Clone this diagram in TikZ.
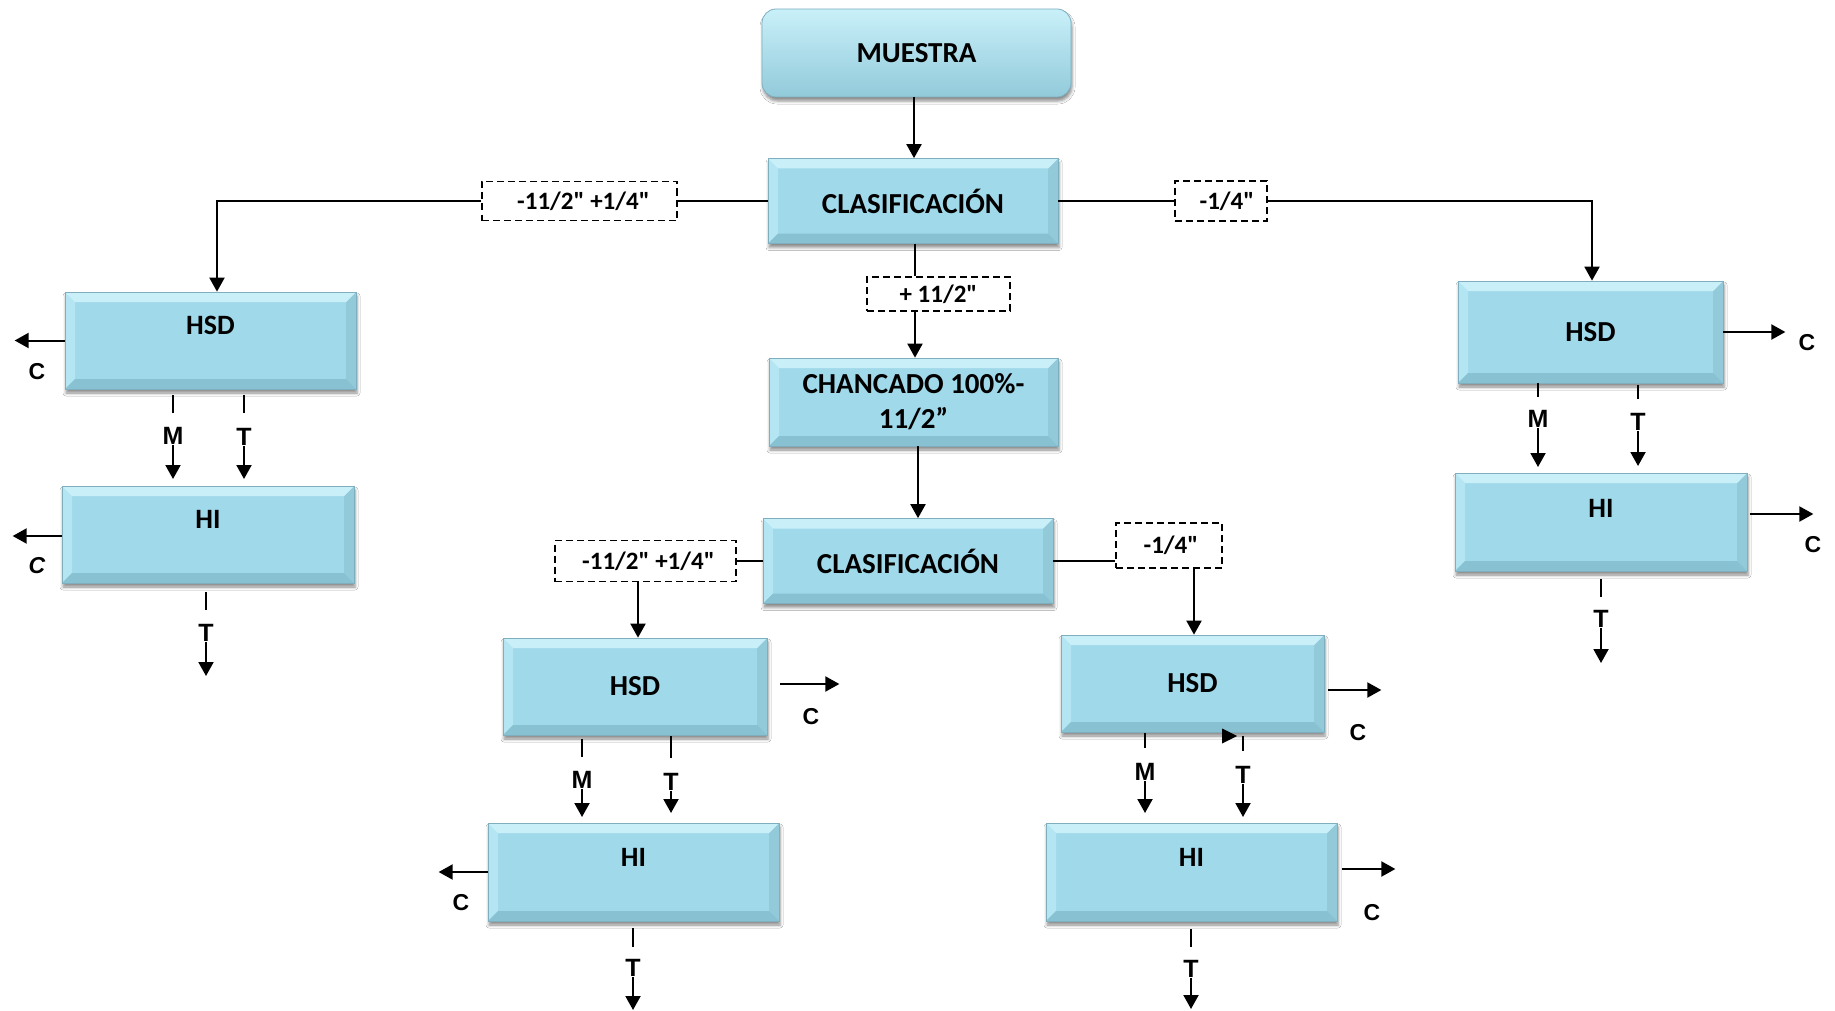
\documentclass[tikz,border=0pt]{standalone}
\usepackage{fontspec}
\setmainfont{Carlito}
\newfontfamily\cutfont{Carlito}
\newfontfamily\labfont{Liberation Sans}
\usetikzlibrary{arrows.meta,shadows.blur}

\definecolor{boxfill}{HTML}{A0D9EA}
\definecolor{bevtop}{HTML}{C9F0F9}
\definecolor{bevleft}{HTML}{B3E5F2}
\definecolor{bevbot}{HTML}{88C1D1}
\definecolor{bevright}{HTML}{92CADA}
\definecolor{boxedge}{HTML}{7FAFBE}

\tikzset{
  bevel/.style={path picture={
    \fill[bevleft] (path picture bounding box.north west) -- (path picture bounding box.south west)
      -- ([shift={(10pt,10pt)}]path picture bounding box.south west)
      -- ([shift={(10pt,-10pt)}]path picture bounding box.north west) -- cycle;
    \fill[bevright] (path picture bounding box.north east) -- (path picture bounding box.south east)
      -- ([shift={(-10pt,10pt)}]path picture bounding box.south east)
      -- ([shift={(-10pt,-10pt)}]path picture bounding box.north east) -- cycle;
    \fill[bevtop] (path picture bounding box.north west) -- (path picture bounding box.north east)
      -- ([shift={(-10pt,-10pt)}]path picture bounding box.north east)
      -- ([shift={(10pt,-10pt)}]path picture bounding box.north west) -- cycle;
    \fill[bevbot] (path picture bounding box.south west) -- (path picture bounding box.south east)
      -- ([shift={(-10pt,10pt)}]path picture bounding box.south east)
      -- ([shift={(10pt,10pt)}]path picture bounding box.south west) -- cycle;
  }},
  softshadow/.style={blur shadow={shadow xshift=1pt, shadow yshift=-4pt,
    shadow blur radius=3pt, shadow opacity=45}},
  procbox/.style={rectangle, draw=boxedge, line width=0.7pt, fill=boxfill,
    inner sep=0pt, bevel, softshadow, align=center,
    font=\fontsize{29}{35}\selectfont\bfseries},
  pillbox/.style={rectangle, rounded corners=14pt, draw=boxedge, line width=0.8pt,
    top color=bevtop, middle color=boxfill, bottom color=bevright,
    inner sep=0pt, softshadow, font=\fontsize{29}{35}\selectfont\bfseries},
  boxtxt/.style={font=\fontsize{28}{35}\selectfont\bfseries, inner sep=0pt},
  cutbox/.style={rectangle, draw, dash pattern=on 7pt off 4pt, line width=1.5pt,
    fill=white, inner sep=0pt, font=\cutfont\fontsize{25}{30}\selectfont\bfseries},
  wire/.style={line width=2pt},
  arr/.style={line width=2pt, -{Triangle[width=15pt,length=14pt]}},
  flowlbl/.style={inner sep=0pt, font=\labfont\fontsize{25}{30}\selectfont\bfseries},
  outlbl/.style={inner sep=0pt, font=\labfont\fontsize{23}{26}\selectfont\bfseries},
}

% labelled drop: upper stub, letter, arrow down
\newcommand\mtstub[7]{%
  \draw[wire] (#2,#3) -- (#2,#4);
  \node[flowlbl] (#1) at (#2,#6) {#5};
  \draw[arr] (#1.south) -- (#2,#7);}

\begin{document}
\begin{tikzpicture}[x=1pt, y=-1pt]
\useasboundingbox (0,0) rectangle (1835,1011);
\fill[white] (0,0) rectangle (1835,1011);

% main column
\node[pillbox, minimum width=309pt, minimum height=88pt] (muestra) at (916.5,53) {MUESTRA};
\node[procbox, minimum width=290pt, minimum height=85pt] (clas1) at (913,201) {CLASIFICACIÓN};
\node[procbox, minimum width=289pt, minimum height=88pt] (chan) at (913.5,402) {CHANCADO 100\%-\\11/2”};
\node[procbox, minimum width=290pt, minimum height=85pt] (clas2) at (908,561) {CLASIFICACIÓN};

% left branch
\node[procbox, minimum width=291pt, minimum height=97pt,
  label={[boxtxt, yshift=15.5pt]center:HSD}] (hsdL) at (210.5,340.5) {};
\node[procbox, minimum width=292pt, minimum height=97pt,
  label={[boxtxt, yshift=15.5pt]center:HI}] (hiL) at (208,534.5) {};

% right branch
\node[procbox, minimum width=265pt, minimum height=102pt] (hsdR) at (1590.5,332) {HSD};
\node[procbox, minimum width=292pt, minimum height=98pt,
  label={[boxtxt, yshift=14pt]center:HI}] (hiR) at (1601,522) {};

% lower branches
\node[procbox, minimum width=264pt, minimum height=97pt] (hsdML) at (635,686.5) {HSD};
\node[procbox, minimum width=291pt, minimum height=98pt,
  label={[boxtxt, yshift=15pt]center:HI}] (hiML) at (633.5,872) {};
\node[procbox, minimum width=263pt, minimum height=97pt] (hsdMR) at (1192.5,683.5) {HSD};
\node[procbox, minimum width=291pt, minimum height=98pt,
  label={[boxtxt, yshift=15pt]center:HI}] (hiMR) at (1191.5,872) {};

% size cuts
\node[cutbox, minimum width=195pt, minimum height=39pt] (d1) at (579.5,201) {\hspace*{8pt}-11/2" +1/4"};
\node[cutbox, minimum width=92pt, minimum height=40pt] (d2) at (1221,201) {\hspace*{12pt}-1/4"};
\node[cutbox, minimum width=143pt, minimum height=34pt] (d3) at (938.5,294) {+ 11/2"};
\node[cutbox, minimum width=181pt, minimum height=41pt] (d4) at (645.5,561) {\hspace*{6pt}-11/2" +1/4"};
\node[cutbox, minimum width=106pt, minimum height=45pt] (d5) at (1169,545.5) {\hspace*{4pt}-1/4"};

% main flow
\draw[arr] ([xshift=-2.5pt]muestra.south) -- ([xshift=-2.5pt]muestra.south |- clas1.north);
\draw[wire] (clas1.west) -- (clas1.west -| d1.east);
\draw[arr] (d1.west) -| ([xshift=6.5pt]hsdL.north);
\draw[wire] (clas1.east) -- (clas1.east -| d2.west);
\draw[arr] (d2.east) -| ([xshift=1.5pt]hsdR.north);
\draw[wire] ([xshift=2pt]clas1.south) -- ([xshift=2pt]clas1.south |- d3.north);
\draw[arr] ([xshift=2pt]clas1.south |- d3.south) -- ([xshift=2pt]clas1.south |- chan.north);
\draw[arr] ([xshift=4.5pt]chan.south) -- ([xshift=4.5pt]chan.south |- clas2.north);
\draw[wire] (clas2.west) -- (clas2.west -| d4.east);
\draw[arr] ([xshift=-7.5pt]d4.south) -- ([xshift=-7.5pt]d4.south |- hsdML.north);
\draw[wire] (clas2.east) -- (clas2.east -| d5.west);
\draw[arr] ([xshift=25pt]d5.south) -- ([xshift=25pt]d5.south |- hsdMR.north);

% coarse outputs
\draw[arr] (hsdL.west) -- ++(-50,0);
\node[outlbl] (cHL) at (37,372) {C};
\draw[arr] ([yshift=-1.5pt]hiL.west) -- ++(-49,0);
\node[outlbl, font=\labfont\fontsize{23}{26}\selectfont\bfseries\itshape] (cIL) at (37,566) {C};
\draw[arr] (hsdR.east) -- ++(62,0);
\node[outlbl] (cHR) at (1807,343) {C};
\draw[arr] ([shift={(3pt,8pt)}]hiR.east) -- ++(63,0);
\node[outlbl] (cIR) at (1813,545) {C};
\draw[arr] ([shift={(13pt,2.5pt)}]hsdML.east) -- ++(59,0);
\node[outlbl] (cHML) at (811,717) {C};
\draw[arr] (hiML.west) -- ++(-49,0);
\node[outlbl] (cIML) at (461,903) {C};
\draw[arr] ([shift={(4pt,-6.5pt)}]hsdMR.east) -- ++(53,0);
\node[outlbl] (cHMR) at (1358,733) {C};
\draw[arr] ([shift={(5pt,3pt)}]hiMR.east) -- ++(53,0);
\node[outlbl] (cIMR) at (1372,913) {C};

% middlings and tailings
\mtstub{mL}{173}{395}{413}{M}{436}{479}
\mtstub{tL}{244}{395}{413}{T}{437}{479}
\mtstub{tIL}{206}{592}{610}{T}{633}{676}
\mtstub{mR}{1538}{383}{397}{M}{419}{467}
\mtstub{tR}{1638}{385}{399}{T}{422}{466}
\mtstub{tIR}{1601}{579}{597}{T}{619}{663}
\mtstub{mML}{582}{739}{757}{M}{780}{817}
\mtstub{tML}{671}{736}{758}{T}{782}{813}
\mtstub{tIML}{633}{928}{947}{T}{968}{1010}
\mtstub{mMR}{1145}{733}{748}{M}{772}{813}
\mtstub{tMR}{1243}{736}{751}{T}{775}{817}
\mtstub{tIMR}{1191}{929}{947}{T}{969}{1009}

% loose arrow tip beside the right-hand T stream
\fill (1222,728.5) -- (1237,736) -- (1222,743.5) -- cycle;
\end{tikzpicture}
\end{document}
